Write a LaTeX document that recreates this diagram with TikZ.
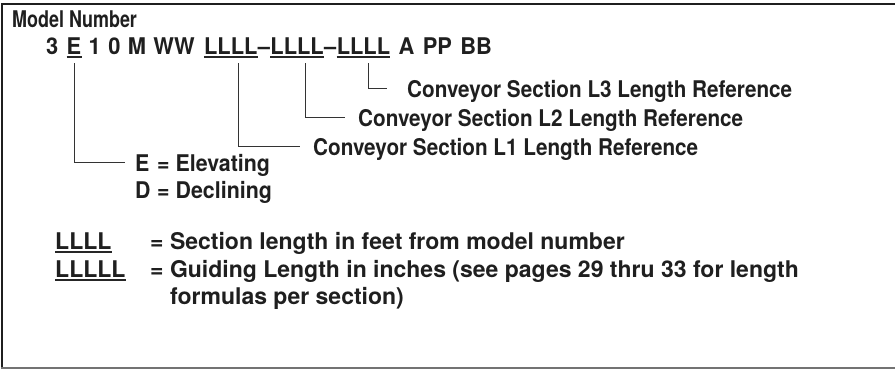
\documentclass[tikz,border=0pt]{standalone}
\usepackage{fontspec}
\setmainfont{TeX Gyre Heros}
\usetikzlibrary{calc}
\newcommand\hsq[2]{\scalebox{#1}[1]{#2}}
\begin{document}
\begin{tikzpicture}[x=1pt,y=-1pt,
  lbl/.style={inner sep=0pt, anchor=base west, text height=16.5pt, text depth=0pt, text=black!88, font=\bfseries\fontsize{23}{27}\selectfont},
  conn/.style={draw=black!80, line width=0.9pt},
  uline/.style={draw=black!85, line width=1.5pt},
  frame/.style={draw=black!88, line width=2.6pt}]
\useasboundingbox (0,0) rectangle (895,370);
\draw[frame] (2,368) -- (2,4) -- (895,4);
\draw[draw=black!55, line width=1.6pt] (1,368) -- (895,368);

\node[lbl] (title) at (12,27) {\hsq{0.78}{Model Number}};

% model number line
\node[lbl] (m3) at (46,54) {\hsq{0.95}{3}};
\node[lbl] (mE) at ([xshift=8pt]m3.base east) {\hsq{0.95}{E}};
\node[lbl] (m1) at ([xshift=7pt]mE.base east) {\hsq{0.95}{1}};
\node[lbl] (m0) at ([xshift=7pt]m1.base east) {\hsq{0.95}{0}};
\node[lbl] (mM) at ([xshift=7pt]m0.base east) {\hsq{0.95}{M}};
\node[lbl] (mW) at ([xshift=7pt]mM.base east) {\hsq{0.95}{WW}};
\node[lbl] (L1) at ([xshift=9pt]mW.base east) {\hsq{0.95}{LLLL}};
\node[lbl] (d1) at (L1.base east) {\hsq{0.95}{–}};
\node[lbl] (L2) at (d1.base east) {\hsq{0.95}{LLLL}};
\node[lbl] (d2) at (L2.base east) {\hsq{0.95}{–}};
\node[lbl] (L3) at (d2.base east) {\hsq{0.95}{LLLL}};
\node[lbl] (mA) at ([xshift=8pt]L3.base east) {\hsq{0.95}{A}};
\node[lbl] (mP) at ([xshift=8pt]mA.base east) {\hsq{0.95}{PP}};
\node[lbl] (mB) at ([xshift=8pt]mP.base east) {\hsq{0.95}{BB}};

\foreach \n in {mE,L1,L2,L3}
  \draw[uline] ([yshift=-3pt]\n.south west) -- ([yshift=-3pt]\n.south east);

% labels
\node[lbl] (c3) at (407,97) {\hsq{0.9}{Conveyor Section L3 Length Reference}};
\node[lbl] (c2) at (358,126) {\hsq{0.9}{Conveyor Section L2 Length Reference}};
\node[lbl] (c1) at (313,155) {\hsq{0.9}{Conveyor Section L1 Length Reference}};
\node[lbl] (elev) at (135,171) {\hsq{0.93}{\makebox[0.75em][l]{E} = Elevating}};
\node[lbl] (decl) at (135,198) {\hsq{0.93}{\makebox[0.75em][l]{D} = Declining}};

% connectors
\coordinate (tE) at ($(mE.south)+(0,9)$);
\coordinate (t1) at ($(L1.south west)!0.65!(L1.south east)+(0,9)$);
\coordinate (t2) at ($(L2.south west)!0.65!(L2.south east)+(0,9)$);
\coordinate (t3) at ($(L3.south west)!0.6!(L3.south east)+(0,9)$);
\draw[conn] (tE) |- ([xshift=-10pt]elev.west);
\draw[conn] (t1) |- ([xshift=-13pt]c1.west);
\draw[conn] (t2) |- ([xshift=-13pt]c2.west);
\draw[conn] (t3) |- ([xshift=-20pt]c3.west);

% legend
\node[lbl] (k1) at (55,249) {LLLL};
\node[lbl] (k1t) at (150,249) {= Section length in feet from model number};
\node[lbl] (k2) at (55,277) {LLLLL};
\node[lbl] (k2t) at (150,277) {= Guiding Length in inches (see pages 29 thru 33 for length};
\node[lbl] (k2u) at ([xshift=20pt,yshift=-27pt]k2t.base west) {formulas per section)};
\foreach \n in {k1,k2}
  \draw[uline] ([yshift=-3pt]\n.south west) -- ([yshift=-3pt]\n.south east);
\end{tikzpicture}
\end{document}
